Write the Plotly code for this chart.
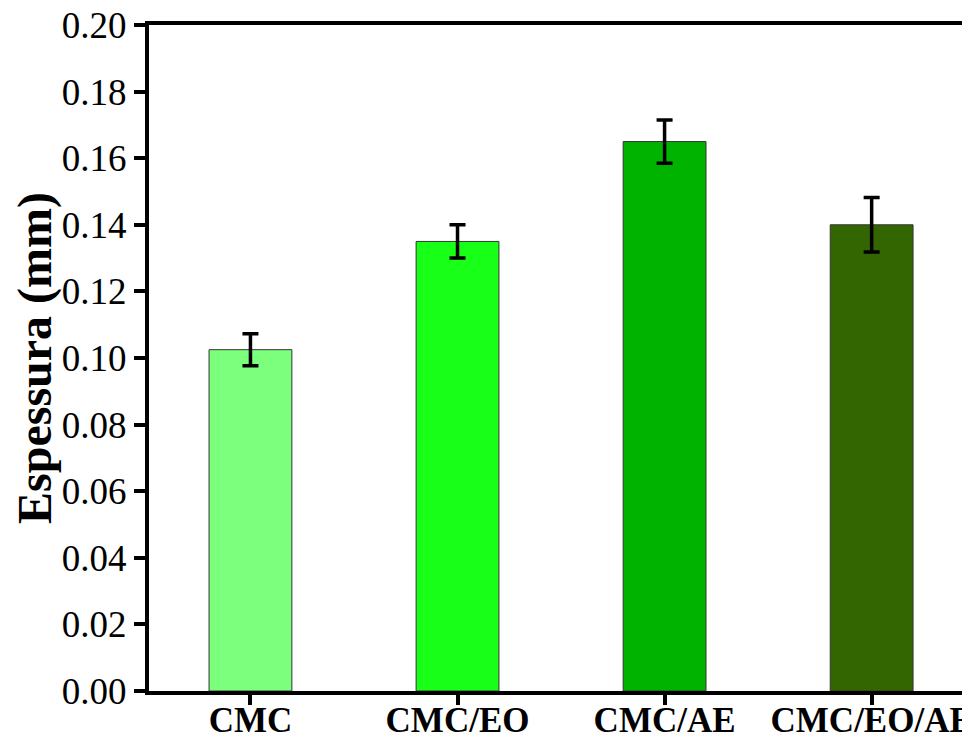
import plotly.graph_objects as go

categories = ["CMC", "CMC/EO", "CMC/AE", "CMC/EO/AE"]
thickness = [0.1025, 0.135, 0.165, 0.140]
errors = [0.0048, 0.005, 0.0065, 0.0082]
colors = ["#7CFF7C", "#18FF18", "#00B300", "#336600"]
y_ticks = [0.00, 0.02, 0.04, 0.06, 0.08, 0.10, 0.12, 0.14, 0.16, 0.18, 0.20]

# the page body has an 8px default margin, so the figure is 8px smaller
OFF = 8

fig = go.Figure()
fig.add_trace(go.Bar(
    x=list(range(len(categories))),
    y=thickness,
    width=0.4,
    marker=dict(color=colors, line=dict(color="#333333", width=1)),
    error_y=dict(type="data", array=errors, visible=True,
                 color="black", thickness=3.5, width=8),
    showlegend=False,
))

font_family = "Liberation Serif, Times New Roman, serif"
fig.update_layout(
    template="none",
    width=970 - OFF, height=745 - OFF,
    margin=dict(l=149 - OFF, r=0, t=25 - OFF, b=54, pad=0),
    plot_bgcolor="white", paper_bgcolor="white",
    font=dict(family=font_family, color="black"),
)
fig.update_xaxes(
    automargin=False,
    ticklabeloverflow="allow",
    ticklabelstandoff=-15,
    range=[-0.49, 3.475],
    tickmode="array",
    tickvals=list(range(len(categories))),
    ticktext=["<b>%s</b>" % c for c in categories],
    tickfont=dict(size=35, family=font_family, color="black"),
    showline=True, linecolor="black", linewidth=4, mirror=True,
    ticks="outside", ticklen=10, tickwidth=3.5, tickcolor="black",
    showgrid=False, zeroline=False,
)
fig.update_yaxes(
    automargin=False,
    ticklabeloverflow="allow",
    range=[0, 0.2],
    tickmode="array",
    tickvals=y_ticks,
    ticktext=["%.2f" % v for v in y_ticks],
    tickfont=dict(size=37, family=font_family, color="black"),
    title=dict(text="<b>Espessura (mm)</b>", font=dict(size=48, family=font_family, color="black"), standoff=5),
    showline=True, linecolor="black", linewidth=4, mirror=False,
    ticks="outside", ticklen=11, tickwidth=3.5, tickcolor="black",
    showgrid=False, zeroline=False,
)

fig.write_html("out.html")
